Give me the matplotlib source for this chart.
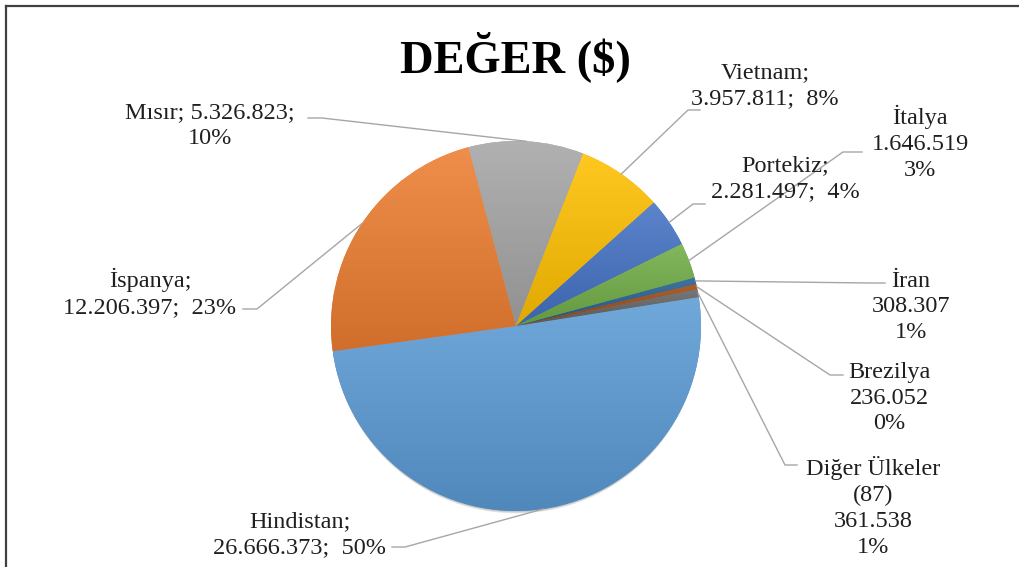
import numpy as np
import matplotlib
matplotlib.use('Agg')
import matplotlib.pyplot as plt
from matplotlib.colors import to_rgb
from matplotlib.patches import Circle

# ── Data ──
countries = ['Hindistan', 'İspanya', 'Mısır', 'Vietnam', 'Portekiz',
             'İtalya', 'İran', 'Brezilya', 'Diğer Ülkeler\n(87)']
values = [26666373, 12206397, 5326823, 3957811, 2281497,
          1646519, 308307, 236052, 361538]
percents = [50, 23, 10, 8, 4, 3, 1, 0, 1]
colors = ['#5B9BD5', '#ED7D31', '#A5A5A5', '#FFC000', '#4472C4',
          '#70AD47', '#255E91', '#9E480E', '#636363']
label_fmt = ['{n};\n{v};  {p}%', '{n};\n{v};  {p}%', '{n}; {v};\n{p}%',
             '{n};\n{v};  {p}%', '{n};\n{v};  {p}%', '{n}\n{v}\n{p}%',
             '{n}\n{v}\n{p}%', '{n}\n{v}\n{p}%', '{n}\n{v}\n{p}%']

# ── Layout (pixel coordinates, y measured from top) ──
W, H = 1020, 567
CX, CY, R = 516, 326, 185
text_pos = [(300, 535), (150, 293), (210, 126), (765, 86), (785, 179),
            (920, 143), (911, 307), (889, 398), (873, 507)]
# leader line: elbow point, then end of the short horizontal stub
elbow = [(405, 547), (257, 309), (322, 118), (688, 110), (693, 204),
         (843, 152), (870, 283), (830, 375), (785, 465)]
stub_end = [(392, 547), (243, 309), (308, 118), (700, 110), (705, 204),
            (862, 152), (885, 283), (843, 375), (797, 465)]

FONT = 'Liberation Serif'


def Y(y):
    return H - y


def fmt_num(v):
    return f"{v:,}".replace(',', '.')


fig = plt.figure(figsize=(W / 100, H / 100), dpi=100)
ax = fig.add_axes([0, 0, 1, 1])

# soft drop shadow under the pie (offset downwards)
for k in range(4):
    ax.add_patch(Circle((CX, Y(CY) - 1.0 - k), R - 0.5 * k,
                        facecolor='black', edgecolor='none', alpha=0.06, zorder=1))

wedges, _ = ax.pie(values, colors=colors, startangle=9, counterclock=False,
                   center=(CX, Y(CY)), radius=R,
                   wedgeprops=dict(edgecolor='none', zorder=2))

# vertical gradient fill per slice, lighter at top, darker at bottom
for w, c in zip(wedges, colors):
    base = np.array(to_rgb(c))
    top = base + (1 - base) * 0.13
    bot = base * 0.88
    t = np.linspace(0, 1, 64)[:, None]
    grad = (top[None, :] * (1 - t) + bot[None, :] * t)[:, None, :]
    th = np.radians(np.linspace(w.theta1, w.theta2, 100))
    xs = np.concatenate([[CX], CX + R * np.cos(th)])
    ys = np.concatenate([[Y(CY)], Y(CY) + R * np.sin(th)])
    im = ax.imshow(grad, extent=[xs.min(), xs.max(), ys.min(), ys.max()],
                   aspect='auto', origin='upper', zorder=3, interpolation='bilinear')
    im.set_clip_path(w)

# labels and leader lines
for i, w in enumerate(wedges):
    mid = np.radians((w.theta1 + w.theta2) / 2)
    px, py = CX + R * np.cos(mid), Y(CY) + R * np.sin(mid)
    ex, ey = elbow[i]
    sx, sy = stub_end[i]
    ax.plot([px, ex, sx], [py, Y(ey), Y(sy)], color='#A6A6A6', lw=1.0, zorder=4)
    txt = label_fmt[i].format(n=countries[i], v=fmt_num(values[i]), p=percents[i])
    tx, ty = text_pos[i]
    ax.text(tx, Y(ty), txt, ha='center', va='center', multialignment='center',
            fontsize=17.5, family=FONT, color='#1f1f1f', linespacing=1.3, zorder=5)

ax.text(515, Y(57), 'DEĞER ($)', ha='center', va='center', fontsize=33.5,
        fontweight='bold', family=FONT, color='black')

# frame (top and left edges visible in the crop)
ax.plot([6.5, W], [Y(5.5), Y(5.5)], color='#404040', lw=1.6, clip_on=False)
ax.plot([6.5, 6.5], [Y(5.5), 0], color='#404040', lw=1.6, clip_on=False)

ax.set_xlim(0, W)
ax.set_ylim(0, H)
ax.set_aspect('equal')
ax.axis('off')

fig.savefig('out.png', dpi=100, facecolor='white')
